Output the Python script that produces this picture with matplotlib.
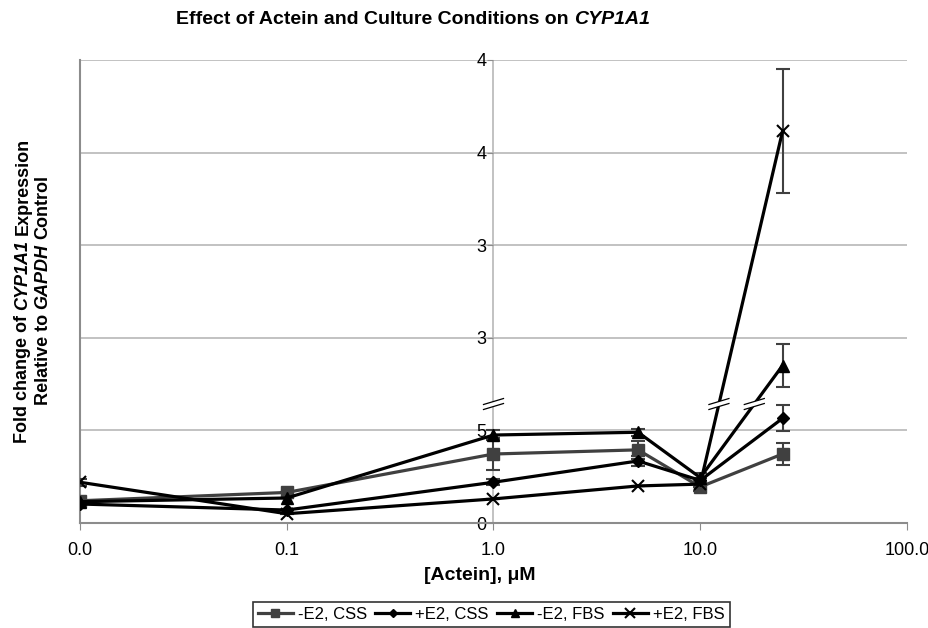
import matplotlib
matplotlib.use("Agg")
import matplotlib.pyplot as plt
import numpy as np
from matplotlib.transforms import ScaledTranslation
from matplotlib.patches import Polygon
from matplotlib.font_manager import FontProperties

plt.rcParams['font.family'] = ['Liberation Sans', 'DejaVu Sans']

# ---- data (y in plotted axis units; axis uses a scale break) ----
actein = [0.01, 0.1, 1.0, 5.0, 10.0, 25.0]
x_ticks = [0.01, 0.1, 1.0, 10.0, 100.0]
x_ticklabels = ['0.0', '0.1', '1.0', '10.0', '100.0']
y_ticks = [0, 1, 2, 3, 4, 5]
y_ticklabels = ['0', '5', '3', '3', '4', '4']

minus_e2_css = [0.24, 0.33, 0.745, 0.79, 0.39, 0.745]
minus_e2_css_err = [0.0, 0.0, 0.17, 0.1, 0.04, 0.12]
plus_e2_css = [0.205, 0.14, 0.44, 0.67, 0.46, 1.13]
plus_e2_css_err = [0.0, 0.0, 0.03, 0.05, 0.03, 0.14]
minus_e2_fbs = [0.23, 0.27, 0.95, 0.98, 0.49, 1.70]
minus_e2_fbs_err = [0.0, 0.0, 0.05, 0.04, 0.05, 0.23]
plus_e2_fbs = [0.44, 0.10, 0.26, 0.40, 0.42, 4.23]
plus_e2_fbs_err = [0.04, 0.0, 0.0, 0.0, 0.03, 0.67]

break_level = 1.285

W, H = 929, 628
fig = plt.figure(figsize=(W / 100, H / 100), dpi=100)
ax = fig.add_axes([80/W, 1-523/H, (907-80)/W, (523-60)/H])
ax.set_xscale('log')
ax.set_xlim(0.01, 100)
ax.set_ylim(0, 5)

for yv in y_ticks[1:]:
    ax.axhline(yv, color='#b8b8b8', lw=1.2, zorder=1)
ax.axvline(1.0, color='#b8b8b8', lw=1.2, zorder=1)
ax.axvline(0.01, color='#8c8c8c', lw=1.5, zorder=1, clip_on=False)

for s in ['top', 'right', 'left']:
    ax.spines[s].set_visible(False)
ax.spines['left'].set_position(('data', 1.0))
ax.spines['bottom'].set_color('#8c8c8c')
ax.spines['bottom'].set_linewidth(1.5)

ax.set_xticks(x_ticks)
ax.set_xticklabels(x_ticklabels, fontsize=13)
ax.xaxis.set_minor_locator(matplotlib.ticker.NullLocator())
ax.tick_params(axis='x', length=5, color='#8c8c8c', pad=9)
ax.set_yticks(y_ticks)
ax.set_yticklabels(y_ticklabels, fontsize=13)
ax.tick_params(axis='y', length=4, color='#8c8c8c', pad=1, direction='out')

series = [
    ('-E2, CSS', minus_e2_css, minus_e2_css_err, 's', '#404040', 8),
    ('+E2, CSS', plus_e2_css, plus_e2_css_err, 'D', 'black', 6),
    ('-E2, FBS', minus_e2_fbs, minus_e2_fbs_err, '^', 'black', 8.5),
    ('+E2, FBS', plus_e2_fbs, plus_e2_fbs_err, 'x', 'black', 9),
]
for label, ys, errs, mk, col, ms in series:
    ax.errorbar(actein, ys, yerr=errs, fmt='none', ecolor='#404040',
                elinewidth=1.5, capsize=5, capthick=1.5, zorder=3)
    ax.plot(actein, ys, color=col, lw=2.3, marker=mk, markersize=ms,
            markeredgewidth=1.5 if mk == 'x' else 1, label=label, zorder=4)


def break_mark(x, y):
    tr = fig.dpi_scale_trans + ScaledTranslation(x, y, ax.transData)
    w, h, g = 0.10, 0.03, 0.025
    poly = Polygon([(-w, -h - g), (w, h - g), (w, h + g), (-w, -h + g)],
                   closed=True, facecolor='white', edgecolor='none',
                   transform=tr, zorder=6, clip_on=False)
    ax.add_patch(poly)
    for off in (-g, g):
        ax.plot([-w, w], [-h + off, h + off], color='black', lw=0.9,
                transform=tr, zorder=7, clip_on=False)


break_mark(1.0, break_level)
for ys in (plus_e2_fbs, minus_e2_fbs):
    lx0, lx1 = np.log10(actein[4]), np.log10(actein[5])
    t = (break_level - ys[4]) / (ys[5] - ys[4])
    break_mark(10 ** (lx0 + t * (lx1 - lx0)), break_level)

renderer = fig.canvas.get_renderer()


def rich(parts, cx, cy, size, rotation=0):
    """parts: list of (text, italic). cx, cy in pixels from top-left."""
    props = []
    widths = []
    for s, it in parts:
        fp = FontProperties(family='Liberation Sans', weight='bold',
                            style='italic' if it else 'normal', size=size)
        sp = renderer.get_text_width_height_descent('a a', fp, ismath=False)[0] - \
            renderer.get_text_width_height_descent('aa', fp, ismath=False)[0]
        core = s.strip()
        lead = len(s) - len(s.lstrip())
        trail = len(s) - len(s.rstrip())
        wcore = renderer.get_text_width_height_descent(core, fp, ismath=False)[0]
        props.append((core, fp, lead * sp))
        widths.append(wcore + (lead + trail) * sp)
    total = sum(widths)
    pos = -total / 2
    for (core, fp, lead), w in zip(props, widths):
        p = pos + lead
        if rotation == 0:
            fig.text((cx + p) / W, 1 - cy / H, core, fontproperties=fp,
                     ha='left', va='center_baseline')
        else:
            fig.text(cx / W, 1 - (cy - p) / H, core, fontproperties=fp,
                     rotation=90, rotation_mode='anchor',
                     ha='left', va='center_baseline')
        pos += w


rich([('Effect of Actein and Culture Conditions on ', False), ('CYP1A1', True)],
     413, 18, 14)
rich([('Fold change of ', False), ('CYP1A1', True), (' Expression', False)],
     21, 290, 13, rotation=90)
rich([('Relative to ', False), ('GAPDH', True), (' Control', False)],
     41, 290, 13, rotation=90)
fig.text(480/W, 1-576/H, '[Actein], μM', ha='center', va='center',
         fontsize=14, fontweight='bold')

leg = fig.legend(loc='upper left', bbox_to_anchor=(253/W, 1-602/H), ncol=4,
                 fontsize=12, frameon=True, fancybox=False, handlelength=2.1,
                 handletextpad=0.3, columnspacing=0.5, borderpad=0.3,
                 borderaxespad=0, markerscale=0.75)
leg.get_frame().set_edgecolor('black')
leg.get_frame().set_linewidth(1.2)

fig.savefig('out.png', dpi=100)
